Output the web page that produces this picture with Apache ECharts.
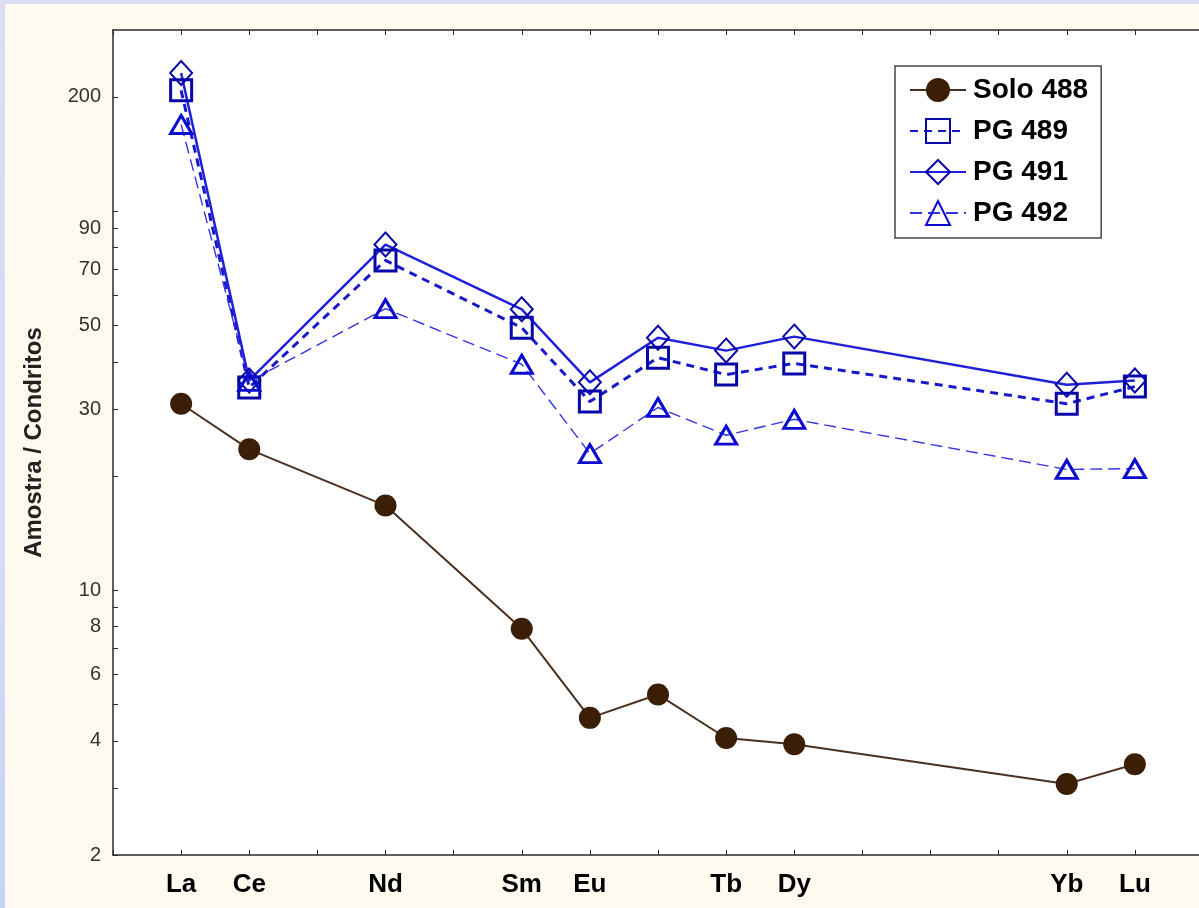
<!DOCTYPE html>
<html>
<head>
<meta charset="utf-8">
<script src="https://cdn.jsdelivr.net/npm/echarts@6/dist/echarts.min.js"></script>
<style>
html,body{margin:0;padding:0;width:1199px;height:908px;overflow:hidden;background:linear-gradient(180deg,#dcdcf4 0%,#d4dcf8 60%,#c6d4f8 100%);}
#c{position:absolute;left:5px;top:4px;width:1201px;height:904px;}
</style>
</head>
<body>
<div id="c"></div>
<script>
// categories (REE sequence; blank ends pad the frame)
const elements = ['', 'La','Ce','Pr','Nd','Pm','Sm','Eu','Gd','Tb','Dy','Ho','Er','Tm','Yb','Lu', ''];
const shownLabels = ['La','Ce','Nd','Sm','Eu','Tb','Dy','Yb','Lu'];
// series values (null = not analysed)
const solo488 = [null, 31.0, 23.5, null, 16.7, null, 7.9, 4.6, 5.3, 4.07, 3.92, null, null, null, 3.08, 3.47, null];
const pg489   = [null, 208, 34.2, null, 74, null, 49.2, 31.4, 41, 37, 39.6, null, null, null, 31.0, 34.4, null];
const pg491   = [null, 231, 35.7, null, 81.5, null, 55, 35.3, 46.3, 42.8, 46.6, null, null, null, 34.8, 35.7, null];
const pg492   = [null, 169, 35.5, null, 55.2, null, 39.4, 22.9, 30.3, 25.6, 28.2, null, null, null, 20.8, 20.9, null];
// tick values
const yLabelValues = [2,4,6,8,10,30,50,70,90,200];
const yTickValues = [2,3,4,5,6,7,8,9,10,20,30,40,50,60,70,80,90,100,200];

const chart = echarts.init(document.getElementById('c'));
const axisLine = {show:true, lineStyle:{color:'#2a2a2a', width:1.5}};
const tickStyle = {color:'#2a2a2a', width:1};
const markerBlue = '#0808a8';
const font = 'Liberation Sans, Arial';
chart.setOption({
  backgroundColor:'#fefaf0',
  animation:false,
  grid:{left:108, top:26, right:0, bottom:53, backgroundColor:'#ffffff', show:true, borderWidth:0},
  legend:{
    orient:'vertical', left:890, top:62,
    backgroundColor:'#ffffff', borderColor:'#444', borderWidth:1.5,
    padding:[10,13,11,14], itemWidth:56, itemHeight:30, itemGap:13,
    textStyle:{fontFamily:font, fontWeight:'bold', fontSize:28, color:'#000', padding:[0,0,0,2]},
    data:['Solo 488','PG 489','PG 491','PG 492']
  },
  xAxis:[{
    type:'category', data:elements, boundaryGap:false,
    axisLine:axisLine,
    axisTick:{show:true, inside:true, length:5, interval:0, lineStyle:tickStyle},
    axisLabel:{interval:0, margin:17, fontFamily:font, fontWeight:'bold', fontSize:26, color:'#000',
      formatter:v => shownLabels.indexOf(v) >= 0 ? v : ''},
    splitLine:{show:false}
  },{
    type:'category', data:elements, boundaryGap:false, position:'top',
    axisLine:axisLine,
    axisTick:{show:true, inside:true, length:5, interval:0, lineStyle:tickStyle},
    axisLabel:{show:false}, splitLine:{show:false}
  }],
  yAxis:[{
    type:'log', logBase:10, min:2, max:300,
    name:'Amostra / Condritos', nameLocation:'middle', nameRotate:90, nameGap:67,
    nameTextStyle:{fontFamily:font, fontWeight:'bold', fontSize:24, color:'#222'},
    axisLine:axisLine,
    axisTick:{show:true, inside:true, length:5, lineStyle:tickStyle, customValues:yTickValues},
    axisLabel:{margin:12, fontFamily:font, fontSize:20, color:'#333', customValues:yLabelValues},
    splitLine:{show:false}, minorTick:{show:false}
  },{
    type:'log', logBase:10, min:2, max:300, position:'right',
    axisLine:axisLine,
    axisTick:{show:true, inside:true, length:4, lineStyle:tickStyle, customValues:yTickValues},
    axisLabel:{show:false, customValues:yLabelValues}, splitLine:{show:false}
  }],
  series:[
    {name:'Solo 488', type:'line', data:solo488, connectNulls:true,
      symbol:'circle', symbolSize:22,
      lineStyle:{color:'#4a3020', width:2},
      itemStyle:{color:'#3a1e06', borderColor:'#3a1e06', borderWidth:0}},
    {name:'PG 489', type:'line', data:pg489, connectNulls:true,
      symbol:'rect', symbolSize:21,
      lineStyle:{color:'#1818c8', width:3, type:[8,6]},
      itemStyle:{color:'rgba(0,0,0,0)', borderColor:markerBlue, borderWidth:3}},
    {name:'PG 491', type:'line', data:pg491, connectNulls:true,
      symbol:'diamond', symbolSize:[22,24],
      lineStyle:{color:'#2020d8', width:2.5},
      itemStyle:{color:'rgba(0,0,0,0)', borderColor:markerBlue, borderWidth:2}},
    {name:'PG 492', type:'line', data:pg492, connectNulls:true,
      symbol:'triangle', symbolSize:[21,18],
      lineStyle:{color:'#3535e0', width:1.4, type:[12,6]},
      itemStyle:{color:'rgba(0,0,0,0)', borderColor:'#0a0ad0', borderWidth:3}}
  ]
});
</script>
</body>
</html>
